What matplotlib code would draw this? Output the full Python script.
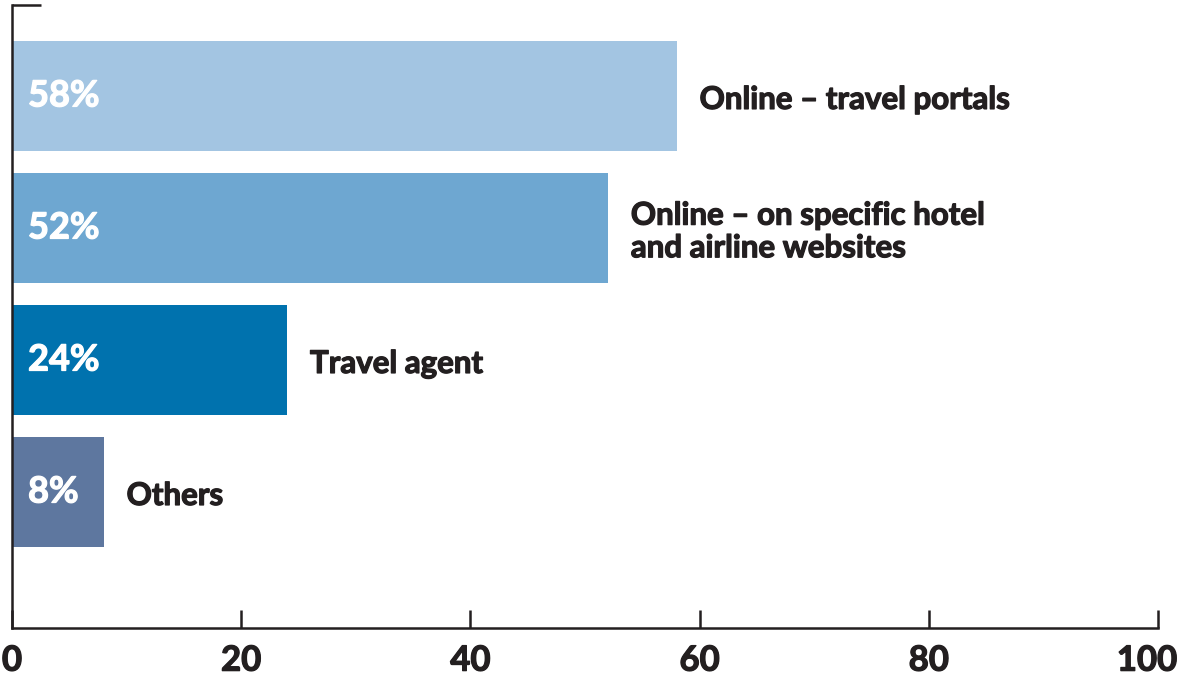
import matplotlib
matplotlib.use("Agg")
import matplotlib.pyplot as plt
import matplotlib.patheffects as pe
from matplotlib.transforms import ScaledTranslation

categories = ["Online \u2013 travel portals",
              "Online \u2013 on specific hotel\nand airline websites",
              "Travel agent",
              "Others"]
values = [58, 52, 24, 8]
colors = ["#a3c5e2", "#6ea7d1", "#0072ae", "#5e779f"]
xticks = [0, 20, 40, 60, 80, 100]

plt.rcParams['font.family'] = ['Lato', 'DejaVu Sans']
ink = "#231f20"

W, H = 1185, 677
fig = plt.figure(figsize=(W/100, H/100), dpi=100)
ax = fig.add_axes([12/W, (H-628)/H, (1158-12)/W, (628-5)/H])

ypos = [3, 2, 1, 0]
ax.barh(ypos, values, height=110/132, color=colors, zorder=2)
ax.set_xlim(0, 100)
ax.set_ylim(-1.03, 3.689)

def thick(col):
    return [pe.withStroke(linewidth=0.9, foreground=col)]

for y, v, c in zip(ypos, values, categories):
    ax.text(1.4, y, f"{v}%", color="white", fontsize=26, fontweight="bold",
            va="center", ha="left", zorder=3, path_effects=thick("white"))
    ax.text(v + 2.0, y - 0.03, c, color=ink, fontsize=22.5, fontweight="bold",
            va="center", ha="left", linespacing=1.2, path_effects=thick(ink))

for s in ["top", "right"]:
    ax.spines[s].set_visible(False)
for s in ["left", "bottom"]:
    ax.spines[s].set_color(ink)
    ax.spines[s].set_linewidth(1.8)

ax.set_xticks(xticks)
ax.set_xticklabels([str(t) for t in xticks])
ax.tick_params(axis="x", direction="in", length=13, width=1.8, color=ink,
               labelsize=25, labelcolor=ink, pad=12)
labs = ax.get_xticklabels()
for lab in labs:
    lab.set_fontweight("bold")
    lab.set_path_effects(thick(ink))
labs[-1].set_transform(labs[-1].get_transform() +
                       ScaledTranslation(-0.11, 0, fig.dpi_scale_trans))
ax.set_yticks([3.689])
ax.set_yticklabels([""])
ax.tick_params(axis="y", direction="in", length=21, width=1.8, color=ink)

fig.savefig("out.png", dpi=100)
